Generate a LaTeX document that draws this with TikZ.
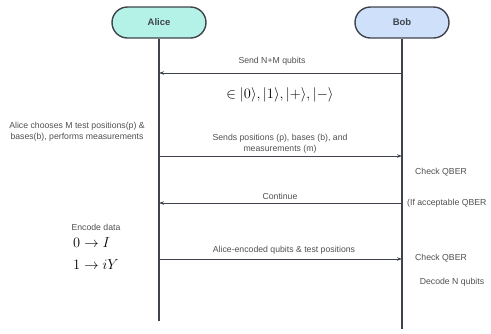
\documentclass[tikz,border=0pt]{standalone}
\usepackage{fontspec}
\setmainfont{Liberation Sans}
\usepackage{amsmath}
\usetikzlibrary{arrows.meta}

\definecolor{linegray}{HTML}{3F444C}
\definecolor{txtgray}{HTML}{505050}
\definecolor{alicefill}{HTML}{B4F1E6}
\definecolor{bobfill}{HTML}{CFE0FA}

\begin{document}
\begin{tikzpicture}
  [x=1pt,y=-1pt,
   actor/.style={draw=linegray,line width=1.4pt,rounded corners=15.5pt,
     minimum width=94pt,minimum height=31pt,font=\fontsize{9.5}{11}\selectfont\bfseries,text=linegray},
   life/.style={draw=linegray,line width=1.5pt},
   msg/.style={draw=linegray,line width=0.8pt,-{Stealth[length=5pt,width=3.5pt]}},
   lbl/.style={font=\fontsize{8.7}{11}\selectfont,text=txtgray,align=center,inner sep=0pt}]
  \useasboundingbox (0,0) rectangle (491,333);

  \node[actor,fill=alicefill] (alice) at (159,22.5) {Alice};
  \node[actor,fill=bobfill]   (bob)   at (402,22.5) {Bob};

  \coordinate (aend) at (159,321);
  \coordinate (bend) at (402,329);
  \draw[life] (alice.south) -- (aend);
  \draw[life] (bob.south) -- (bend);

  % message end points on the lifelines
  \coordinate (a1) at (159,73);  \coordinate (b1) at (402,73);
  \coordinate (a2) at (159,156); \coordinate (b2) at (402,156);
  \coordinate (a3) at (159,203); \coordinate (b3) at (402,203);
  \coordinate (a4) at (159,259); \coordinate (b4) at (402,259);

  \foreach \from/\to in {b1/a1,a2/b2,b3/a3,a4/b4}
    \draw[msg] (\from) -- (\to);

  \node[lbl] (send) at (272,61) {Send N+M qubits};
  \node[inner sep=0pt] (states) at (280,95)
    {\fontsize{14}{16}\selectfont$\in|0\rangle,|1\rangle,|+\rangle,|-\rangle$};

  \node[lbl] (choose) at (77,132) {Alice chooses M test positions(p) \&\\bases(b), performs measurements};
  \node[lbl] (sendpos) at (280,144) {Sends positions (p), bases (b), and\\measurements (m)};
  \node[lbl] (check1) at (441,172) {Check QBER};

  \node[lbl] (cont) at (280,196) {Continue};
  \node[lbl,anchor=west] (accept) at (407,203) {(If acceptable QBER};

  \node[lbl] (encode) at (96,227) {Encode data};
  \node[inner sep=0pt,anchor=west] (zero) at (73,243) {\fontsize{15}{17}\selectfont$0\rightarrow I$};
  \node[inner sep=0pt,anchor=west] (one) at (73,265) {\fontsize{15}{17}\selectfont$1\rightarrow iY$};

  \node[lbl] (encq) at (284,250) {Alice-encoded qubits \& test positions};
  \node[lbl] (check2) at (441,258) {Check QBER};
  \node[lbl] (decode) at (452,282) {Decode N qubits};
\end{tikzpicture}
\end{document}
